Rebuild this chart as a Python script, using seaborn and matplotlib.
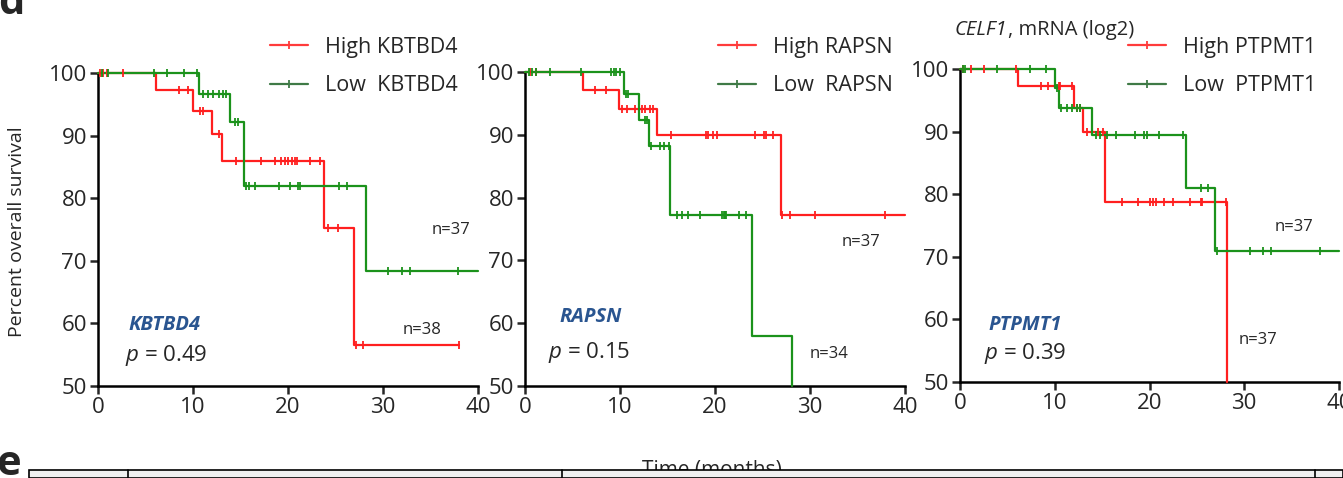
import numpy as np
import matplotlib
matplotlib.use("Agg")
import matplotlib.pyplot as plt
from matplotlib.lines import Line2D
from matplotlib.patches import Rectangle
import seaborn as sns

# ---- data (months, percent survival) ----
# KBTBD4
kb_high_t = [6.1, 10.0, 12.0, 13.0, 23.8, 26.9]
kb_high_s = [97.3, 94.0, 90.2, 86.0, 75.3, 56.5]
kb_high_end = 38.0
kb_high_cens = [0.2, 0.5, 0.9, 2.6, 8.5, 9.5, 10.7, 11.0, 12.7, 14.5, 17.2, 18.6,
                19.3, 19.7, 20.0, 20.4, 20.7, 20.9, 22.3, 23.4, 24.2, 25.3, 27.2, 27.9, 38.0]
kb_low_t = [10.6, 13.9, 15.4, 28.2]
kb_low_s = [96.7, 92.2, 82.0, 68.3]
kb_low_end = 40.0
kb_low_cens = [0.4, 1.0, 5.9, 7.3, 9.1, 10.4, 11.1, 11.6, 12.1, 12.7, 13.2, 13.5,
               14.4, 14.7, 15.6, 15.9, 16.5, 19.0, 20.2, 21.1, 21.3, 25.4, 26.2,
               30.5, 32.0, 32.8, 37.9]

# RAPSN
ra_high_t = [6.1, 9.9, 13.9, 26.9]
ra_high_s = [97.2, 94.1, 90.0, 77.2]
ra_high_end = 40.0
ra_high_cens = [0.5, 1.2, 7.4, 8.5, 10.2, 10.7, 11.6, 12.3, 12.6, 13.2, 13.5, 15.4,
                19.1, 19.3, 19.8, 20.2, 24.2, 25.2, 25.4, 26.1, 27.1, 27.9, 30.5, 37.9]
ra_low_t = [10.4, 12.0, 13.1, 15.3, 23.9, 28.1]
ra_low_s = [96.5, 92.4, 88.2, 77.2, 58.0, 50.0]
ra_low_end = None
ra_low_cens = [0.4, 0.7, 1.2, 2.6, 5.9, 9.1, 9.4, 9.6, 10.0, 10.6, 10.8, 12.6, 12.8,
               13.3, 14.2, 14.6, 15.2, 16.0, 16.5, 17.2, 18.4, 20.7, 20.9, 21.0,
               21.2, 22.5, 23.3]

# PTPMT1
pt_high_t = [6.1, 12.0, 13.0, 15.3, 28.2]
pt_high_s = [97.3, 93.8, 89.9, 78.8, 50.0]
pt_high_end = None
pt_high_cens = [0.35, 1.2, 2.5, 5.9, 8.5, 9.3, 10.4, 10.6, 11.8, 12.3, 12.7, 13.4,
                14.6, 15.1, 17.1, 18.8, 20.1, 20.4, 20.7, 21.5, 22.5, 24.3, 25.4,
                25.5, 28.1]
pt_low_t = [10.0, 10.5, 13.9, 23.9, 26.9]
pt_low_s = [97.0, 93.7, 89.4, 81.0, 71.0]
pt_low_end = 40.0
pt_low_cens = [0.35, 0.5, 3.9, 7.4, 9.1, 10.2, 10.7, 11.3, 11.8, 12.3, 12.7, 14.4,
               14.8, 15.5, 16.5, 18.5, 19.4, 19.7, 21.0, 23.5, 25.4, 26.2, 27.1,
               30.6, 32.0, 32.8, 38.0]

genes = ["KBTBD4", "RAPSN", "PTPMT1"]
p_values = ["0.49", "0.15", "0.39"]
n_labels = [[("n=37", 37.2, 74.9), ("n=38", 34.1, 58.9)],
            [("n=37", 35.4, 72.9), ("n=34", 32.0, 55.1)],
            [("n=37", 35.3, 74.8), ("n=37", 31.4, 56.7)]]

RED = "#ff1f1f"
GREEN = "#1b921b"
LEG_RED = "#ff3b3b"
LEG_GREEN = "#3f7a46"
NAVY = "#2a5590"

sns.set_style("white")
plt.rcParams["font.family"] = ["Open Sans", "DejaVu Sans"]
plt.rcParams["mathtext.fontset"] = "custom"
plt.rcParams["mathtext.it"] = "Open Sans:italic"
plt.rcParams["mathtext.rm"] = "Open Sans"

W, H = 1343, 478
fig = plt.figure(figsize=(W / 100, H / 100), dpi=100)

# axes boxes in pixels: (x at 0, x at 40, y at 100, y at 50)
boxes = [(98, 478, 73, 386), (525, 905, 72, 386), (960, 1339, 69, 382)]
legend_x = [270, 718, 1128]

curves = [
    [(kb_high_t, kb_high_s, kb_high_end, kb_high_cens, RED),
     (kb_low_t, kb_low_s, kb_low_end, kb_low_cens, GREEN)],
    [(ra_high_t, ra_high_s, ra_high_end, ra_high_cens, RED),
     (ra_low_t, ra_low_s, ra_low_end, ra_low_cens, GREEN)],
    [(pt_high_t, pt_high_s, pt_high_end, pt_high_cens, RED),
     (pt_low_t, pt_low_s, pt_low_end, pt_low_cens, GREEN)],
]
label_pos = [((7.05, 59.8), (7.2, 54.8)), ((6.9, 61.0), (6.8, 55.4)), ((6.9, 59.1), (6.9, 54.5))]

for i, gene in enumerate(genes):
    x0, x1, y100, y50 = boxes[i]
    ax = fig.add_axes([x0 / W, 1 - y50 / H, (x1 - x0) / W, (y50 - y100) / H])

    for drop_t, drop_s, end, cens, color in curves[i]:
        xs = [0] + list(drop_t)
        ys = [100] + list(drop_s)
        if end is not None:
            xs.append(end)
            ys.append(drop_s[-1])
        sns.lineplot(x=xs, y=ys, ax=ax, color=color, lw=1.6, drawstyle="steps-post",
                     estimator=None, sort=False, clip_on=False, zorder=3)
        levels = np.array([100] + list(drop_s))
        cy = levels[np.searchsorted(drop_t, cens, side="right")]
        ax.plot(cens, cy, ls="none", marker="|", ms=6, mew=1.3, color=color,
                clip_on=False, zorder=4)

    ax.set_xlim(0, 40)
    ax.set_ylim(50, 100)
    ax.set_xticks([0, 10, 20, 30, 40])
    ax.set_yticks([50, 60, 70, 80, 90, 100])
    sns.despine(ax=ax)
    for side in ["left", "bottom"]:
        ax.spines[side].set_linewidth(1.8)
        ax.spines[side].set_color("black")
    ax.tick_params(direction="out", length=6, width=1.8, labelsize=16, pad=2,
                   bottom=True, left=True)
    ax.set_xlabel("")
    ax.set_ylabel("")
    ax.patch.set_alpha(0)

    (gx, gy), (px, py) = label_pos[i]
    ax.text(gx, gy, gene, color=NAVY, fontsize=14.5, fontweight="bold",
            fontstyle="italic", ha="center", va="center")
    ax.text(px, py, r"$p$ = " + p_values[i], fontsize=16, ha="center", va="center")
    for txt, nx, ny in n_labels[i]:
        ax.text(nx, ny, txt, fontsize=12, ha="center", va="center")

    handles = [Line2D([0], [0], color=LEG_RED, lw=1.6, marker="|", ms=6, mew=1.3),
               Line2D([0], [0], color=LEG_GREEN, lw=1.6, marker="|", ms=6, mew=1.3)]
    ax.legend(handles, ["High " + gene, "Low  " + gene], loc="upper left",
              bbox_to_anchor=(legend_x[i] / W, 1 - 37 / H),
              bbox_transform=fig.transFigure, frameon=False, fontsize=15.5,
              borderpad=0, borderaxespad=0, handlelength=1.75, handletextpad=0.8,
              labelspacing=0.8)

# shared labels
fig.text(17 / W, 1 - 232 / H, "Percent overall survival", rotation=90,
         fontsize=14, ha="center", va="center")
t_it = fig.text(955 / W, 1 - 30 / H, "CELF1", fontsize=14.5, fontstyle="italic",
                ha="left", va="center")
fig.canvas.draw()
bb = t_it.get_window_extent()
fig.text(bb.x1 / W, 1 - 30 / H, ", mRNA (log2)", fontsize=14.5, ha="left", va="center")
fig.text(712 / W, 1 - 460 / H, "Time (months)", fontsize=15, ha="center", va="top")

# panel letters (cropped in the reference)
fig.text(-2 / W, 1 - 14 / H, "d", fontsize=30, fontweight="bold", va="baseline")
fig.text(-4 / W, 1 - 475 / H, "e", fontsize=30, fontweight="bold", va="baseline")

# top edge of the table that follows below
fig.patches.append(Rectangle((29 / W, 0), 1 - 29 / W, (H - 470) / H,
                             transform=fig.transFigure, facecolor="#f0f0f0",
                             edgecolor="black", lw=1.2, zorder=10))
for vx in [128, 562, 1315]:
    fig.add_artist(Line2D([vx / W, vx / W], [0, (H - 470) / H], color="black",
                          lw=1.2, transform=fig.transFigure, zorder=11))

fig.savefig("out.png", dpi=100)
